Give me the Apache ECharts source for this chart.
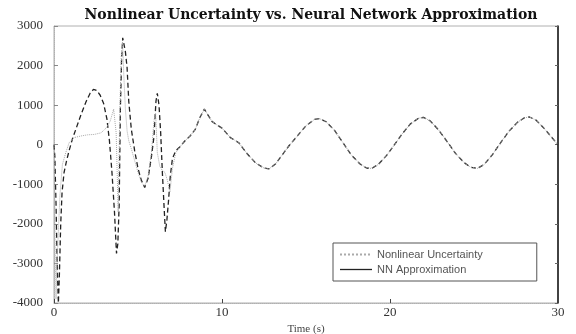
<!DOCTYPE html>
<html>
<head>
<meta charset="utf-8">
<script src="https://cdn.jsdelivr.net/npm/echarts@6/dist/echarts.min.js"></script>
<style>
  html, body { margin: 0; padding: 0; background: #fff; }
  #chart { width: 576px; height: 334px; }
</style>
</head>
<body>
<div id="chart"></div>
<script>
// NN approximation, start-up transient (s, value)
const nnTime = [0, 0.05, 0.12, 0.2, 0.26, 0.32, 0.4, 0.48, 0.6, 0.75, 0.9, 1.1, 1.35, 1.6, 1.9, 2.15, 2.35, 2.55, 2.75, 2.95, 3.15, 3.3, 3.45, 3.6, 3.72, 3.8, 3.88, 3.95, 4.02, 4.09, 4.16, 4.25, 4.35, 4.45, 4.6, 4.8, 5.0, 5.2, 5.4, 5.6, 5.8, 5.95, 6.07, 6.15, 6.25, 6.35, 6.45, 6.55, 6.63, 6.72, 6.82, 6.92, 7.05, 7.25]
const nnValue = [0, -300, -1500, -3200, -4000, -3300, -2000, -1200, -700, -400, -150, 150, 450, 750, 1080, 1300, 1400, 1370, 1250, 1050, 650, 100, -700, -1700, -2750, -2500, -1500, 900, 2100, 2700, 2550, 2350, 1950, 1100, 400, -150, -600, -900, -1080, -850, -300, 200, 1100, 1300, 1000, 300, -700, -1550, -2200, -1900, -1400, -800, -350, -150]

// nonlinear uncertainty, start-up transient
const unTime = [0, 0.04, 0.08, 0.12, 0.18, 0.25, 0.35, 0.5, 0.7, 0.9, 1.2, 1.6, 2.0, 2.4, 2.8, 3.1, 3.35, 3.55, 3.7, 3.82, 3.92, 4.0, 4.08, 4.15, 4.25, 4.35, 4.45, 4.6, 4.8, 5.0, 5.2, 5.4, 5.6, 5.8, 5.95, 6.05, 6.15, 6.3, 6.45, 6.6, 6.75, 6.9, 7.05, 7.25]
const unValue = [0, -1200, -3000, -3900, -3000, -2300, -1300, -500, -200, 50, 180, 220, 250, 260, 300, 420, 600, 900, 300, -1700, 900, 2200, 2600, 1800, 900, 350, 100, -100, -400, -700, -950, -1050, -800, -200, 600, 800, -200, -550, -650, -700, -900, -1200, -600, -200]

// after ~7.5 s both curves lie on top of each other
const tailTime = [7.5, 7.8, 8.1, 8.4, 8.7, 8.95, 9.15, 9.4, 9.7, 10.0, 10.5, 11.0, 11.5, 12.0, 12.5, 12.8, 13.2, 13.6, 14.0, 14.5, 15.0, 15.5, 15.8, 16.2, 16.7, 17.2, 17.7, 18.2, 18.6, 18.9, 19.3, 19.8, 20.2, 20.7, 21.2, 21.7, 22.0, 22.4, 22.9, 23.4, 23.9, 24.4, 24.8, 25.2, 25.6, 26.1, 26.6, 27.1, 27.6, 28.0, 28.3, 28.7, 29.2, 29.6, 30.0]
const tailValue = [-50, 100, 220, 380, 700, 900, 760, 590, 500, 420, 180, 50, -230, -460, -590, -610, -480, -250, -20, 230, 480, 640, 660, 580, 360, 50, -260, -480, -590, -600, -500, -270, -40, 260, 520, 670, 690, 600, 370, 80, -220, -450, -570, -600, -500, -250, 60, 350, 570, 680, 700, 620, 400, 200, 0]

const seriesNames = ['Nonlinear Uncertainty', 'NN Approximation']
const yTicks = [-4000, 3000, 1000]
const xTicks = [0, 30, 10]

function pairs(ts, vs) {
  return ts.map((t, i) => [t, vs[i]]).concat(tailTime.map((t, i) => [t, tailValue[i]]))
}

const chart = echarts.init(document.getElementById('chart'))

const option = {
  animation: false,
  backgroundColor: '#fff',
  title: {
    text: 'Nonlinear Uncertainty vs. Neural Network Approximation',
    left: 306,
    top: 3,
    textAlign: 'center',
    textStyle: {
      fontFamily: 'DejaVu Serif',
      fontWeight: 'bold',
      fontSize: 14,
      color: '#111'
    }
  },
  grid: {
    left: 54,
    right: 18,
    top: 26,
    bottom: 31,
    outerBoundsMode: 'none',
    show: true,
    borderColor: '#b0b0b0',
    borderWidth: 1
  },
  legend: {
    show: true,
    orient: 'vertical',
    left: 333,
    top: 243,
    itemWidth: 32,
    itemHeight: 10,
    itemGap: 4,
    padding: [6, 54, 6, 6],
    backgroundColor: '#fff',
    borderColor: '#555',
    borderWidth: 1,
    itemStyle: { opacity: 0 },
    textStyle: {
      fontFamily: 'Liberation Sans',
      fontSize: 11,
      color: '#555'
    },
    data: [
      { name: seriesNames[0] },
      { name: seriesNames[1], lineStyle: { type: 'solid', width: 1.3 } }
    ]
  },
  xAxis: {
    type: 'value',
    min: xTicks[0],
    max: xTicks[1],
    interval: xTicks[2],
    name: 'Time (s)',
    nameLocation: 'middle',
    nameGap: 15,
    nameTextStyle: { fontFamily: 'Liberation Serif', fontSize: 11, color: '#444' },
    axisLine: { onZero: false, lineStyle: { color: '#b0b0b0', type: 'dotted' } },
    axisTick: { inside: true, length: 4, lineStyle: { color: '#444' } },
    axisLabel: { fontFamily: 'Liberation Serif', fontSize: 13, color: '#333', margin: 3 },
    splitLine: { show: false }
  },
  yAxis: [
    {
      type: 'value',
      min: yTicks[0],
      max: yTicks[1],
      interval: yTicks[2],
      axisLine: { show: true, onZero: false, lineStyle: { color: '#b0b0b0', type: 'dotted' } },
      axisTick: { show: true, inside: true, length: 4, lineStyle: { color: '#888' } },
      axisLabel: { fontFamily: 'Liberation Serif', fontSize: 13, color: '#333', margin: 11, formatter: v => String(v) },
      splitLine: { show: false }
    },
    {
      type: 'value',
      position: 'right',
      min: yTicks[0],
      max: yTicks[1],
      interval: yTicks[2],
      axisLine: { show: true, onZero: false, lineStyle: { color: '#111', width: 1.5 } },
      axisTick: { show: true, inside: true, length: 3, lineStyle: { color: '#666' } },
      axisLabel: { show: false },
      splitLine: { show: false }
    }
  ],
  series: [
    {
      name: seriesNames[0],
      type: 'line',
      showSymbol: false,
      symbol: 'none',
      data: pairs(unTime, unValue),
      lineStyle: { color: '#aaa', width: 1, type: 'dotted' },
      itemStyle: { color: '#aaa' },
      z: 3
    },
    {
      name: seriesNames[1],
      type: 'line',
      showSymbol: false,
      symbol: 'none',
      data: pairs(nnTime, nnValue),
      lineStyle: { color: '#222', width: 1.3, type: [5, 3] },
      itemStyle: { color: '#222' },
      z: 2
    }
  ]
}

chart.setOption(option)
</script>
</body>
</html>
